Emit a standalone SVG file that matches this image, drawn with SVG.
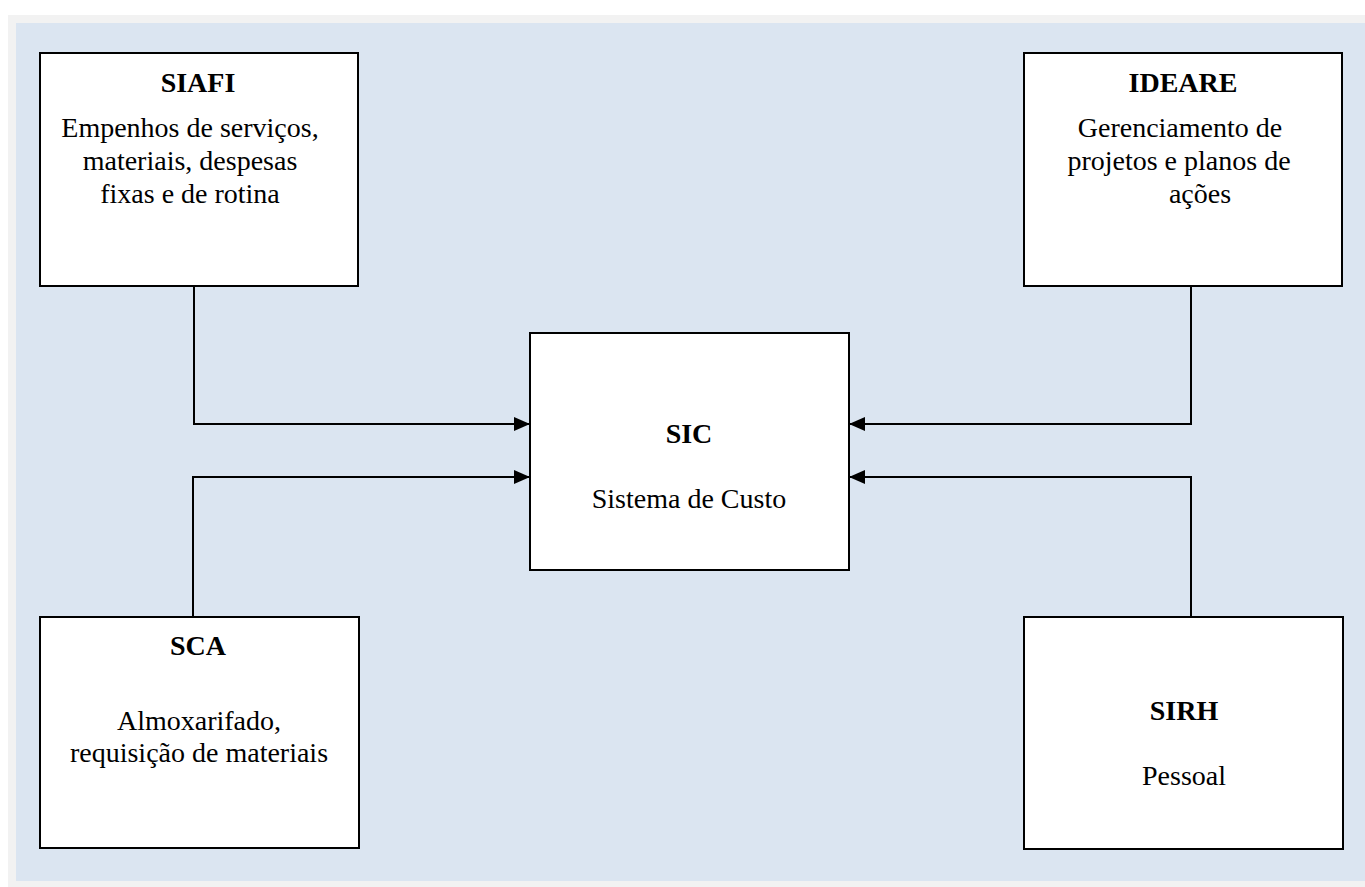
<svg xmlns="http://www.w3.org/2000/svg" width="1365" height="887" viewBox="0 0 1365 887">
<defs>
<style>
.box{fill:#ffffff;stroke:#000000;stroke-width:2}
.t{font-family:"Liberation Serif","Times New Roman",serif;font-size:28px;fill:#000;text-anchor:middle}
.b{font-weight:bold}
.c{fill:none;stroke:#000;stroke-width:2}
</style>
<marker id="arr" markerUnits="userSpaceOnUse" markerWidth="16" markerHeight="16" viewBox="0 0 16 16" refX="16" refY="8" orient="auto">
<path d="M0,1 L16,8 L0,15 Z" fill="#000"/>
</marker>
</defs>
<rect x="8" y="15" width="1357" height="872" fill="#f2f2f2"/>
<rect x="16" y="23" width="1349" height="858" fill="#dbe5f1"/>
<g id="connectors">
<path class="c" d="M194,286 V424 H530" marker-end="url(#arr)"/>
<path class="c" d="M193,617 V477 H530" marker-end="url(#arr)"/>
<path class="c" d="M1191,286 V424 H849" marker-end="url(#arr)"/>
<path class="c" d="M1191,617 V477 H849" marker-end="url(#arr)"/>
</g>
<g id="siafi">
<rect class="box" x="40" y="53" width="318" height="233"/>
<text class="t b" x="198" y="92">SIAFI</text>
<text class="t" x="190" y="137">Empenhos de serviços,</text>
<text class="t" x="190" y="170">materiais, despesas</text>
<text class="t" x="190" y="203">fixas e de rotina</text>
</g>
<g id="ideare">
<rect class="box" x="1024" y="53" width="318" height="233"/>
<text class="t b" x="1183" y="92">IDEARE</text>
<text class="t" x="1180" y="137">Gerenciamento de</text>
<text class="t" x="1179" y="170">projetos e planos de</text>
<text class="t" x="1200" y="203">ações</text>
</g>
<g id="sic">
<rect class="box" x="530" y="333" width="319" height="237"/>
<text class="t b" x="689" y="443">SIC</text>
<text class="t" x="689" y="508">Sistema de Custo</text>
</g>
<g id="sca">
<rect class="box" x="40" y="617" width="319" height="231"/>
<text class="t b" x="198" y="655">SCA</text>
<text class="t" x="199" y="730">Almoxarifado,</text>
<text class="t" x="199" y="762">requisição de materiais</text>
</g>
<g id="sirh">
<rect class="box" x="1024" y="617" width="319" height="232"/>
<text class="t b" x="1184" y="720">SIRH</text>
<text class="t" x="1184" y="785">Pessoal</text>
</g>
</svg>
